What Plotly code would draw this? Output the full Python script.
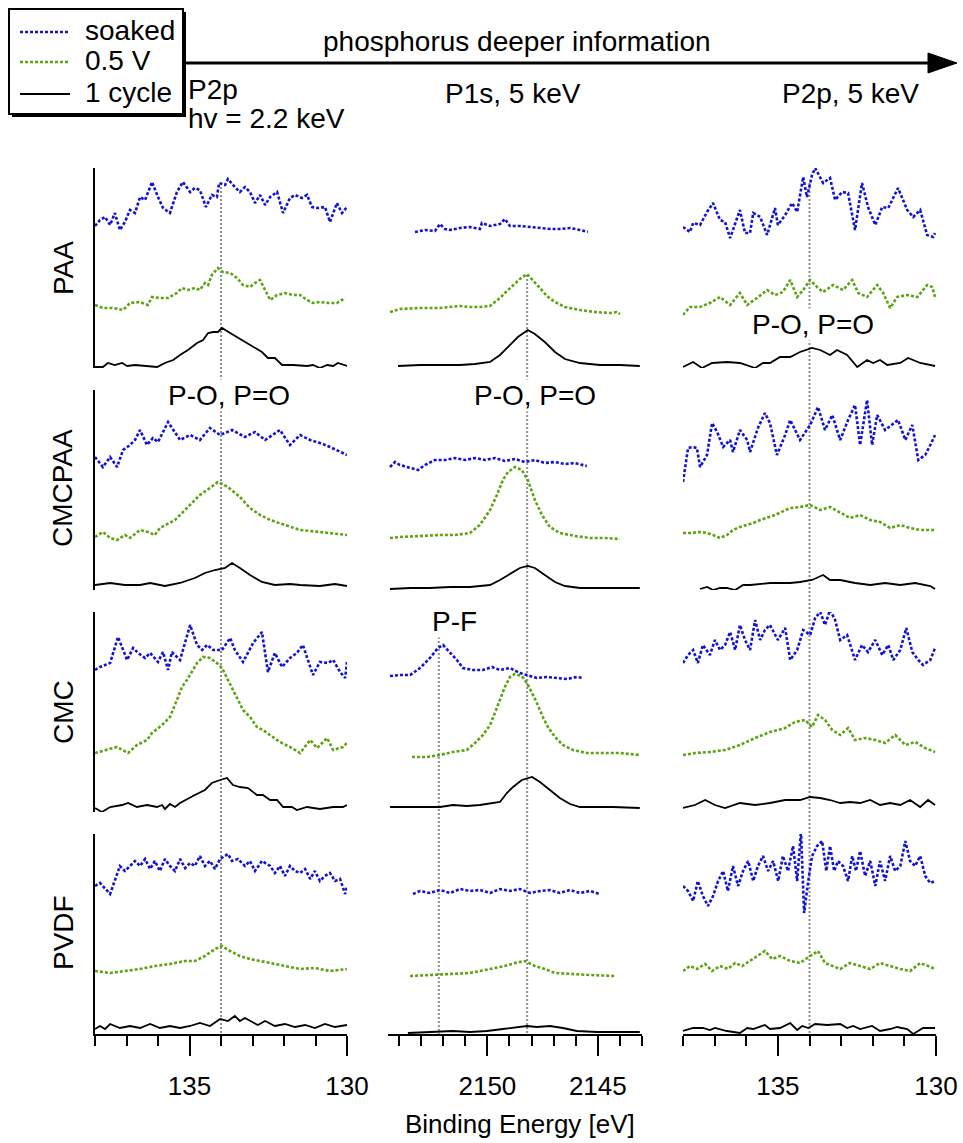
import plotly.graph_objects as go

# ---------------------------------------------------------------------------
# DATA  (binding energy in eV, intensity in arbitrary units above baseline)
# a = P2p, hv = 2.2 keV ; b = P1s, 5 keV ; c = P2p, 5 keV
# ---------------------------------------------------------------------------

# ---- PAA ----
paa_a_soaked_e = [138.00,137.84,137.68,137.52,137.37,137.21,137.05,136.89,136.73,136.57,136.41,136.19,136.00,135.84,135.62,135.40,135.21,134.98,134.83,134.67,134.48,134.29,134.13,134.06,133.87,133.78,133.56,133.40,133.24,133.08,132.92,132.76,132.60,132.44,132.22,132.03,131.81,131.65,131.43,131.27,131.11,130.92,130.70,130.54,130.32,130.16,130.00]
paa_a_soaked_i = [2,8,11,3,15,-2,6,18,15,31,28,46,31,20,15,36,46,36,40,38,21,33,31,45,43,49,41,36,41,36,25,33,23,31,36,15,30,33,30,33,21,20,21,6,25,15,21]
paa_a_v05_e = [138.00,137.75,137.43,137.11,136.89,136.57,136.32,136.19,135.94,135.68,135.40,135.24,135.05,134.83,134.67,134.51,134.41,134.29,134.10,133.94,133.71,133.49,133.30,133.08,132.92,132.76,132.60,132.44,132.22,131.97,131.71,131.49,131.27,131.08,130.86,130.60,130.32,130.06]
paa_a_v05_i = [3,0,0,-2,5,6,3,11,10,10,15,20,18,20,18,25,23,33,40,36,35,30,23,21,25,28,18,8,13,15,13,13,8,5,6,5,5,10]
paa_a_cycle1_e = [138.00,137.75,137.59,137.37,137.14,136.98,136.73,136.25,136.03,135.78,135.52,135.30,135.05,134.76,134.57,134.41,134.25,134.10,133.97,133.71,133.49,133.24,132.98,132.70,132.51,132.29,132.06,131.71,131.27,131.08,130.86,130.63,130.44,130.29,130.00]
paa_a_cycle1_i = [1,1,5,3,5,2,3,2,1,5,8,13,18,25,28,35,36,36,40,35,31,26,21,16,10,10,3,3,2,3,0,3,2,5,2]

paa_b_soaked_e = [2153.28,2152.83,2152.37,2152.15,2151.92,2151.69,2151.24,2150.79,2150.34,2150.25,2149.88,2149.43,2149.21,2148.98,2148.53,2148.07,2147.62,2147.17,2146.72,2146.26,2145.81,2145.45]
paa_b_soaked_i = [-4,-2,-3,4,-1,-2,0,1,-1,5,2,4,9,2,2,1,0,-1,-1,0,-2,-4]
paa_b_v05_e = [2154.41,2153.96,2153.05,2152.15,2151.24,2150.79,2150.34,2149.88,2149.66,2149.43,2149.21,2148.98,2148.75,2148.53,2148.21,2147.94,2147.62,2147.31,2146.94,2146.49,2145.81,2145.13,2144.45,2144.14,2144.00]
paa_b_v05_i = [-4,-1,0,0,2,1,1,2,6,10,15,20,25,29,34,28,20,12,6,1,-2,-4,-5,-4,-6]
paa_b_cycle1_e = [2154.05,2153.05,2152.15,2151.24,2150.56,2149.88,2149.43,2148.98,2148.62,2148.17,2147.85,2147.40,2146.94,2146.49,2145.81,2144.91,2144.00,2143.10]
paa_b_cycle1_i = [2,3,3,3,4,6,13,23,31,38,34,26,16,9,5,3,3,2]

paa_c_soaked_e = [138.00,137.78,137.68,137.46,137.24,137.05,136.83,136.67,136.51,136.35,136.20,136.04,135.88,135.78,135.56,135.34,135.09,135.00,134.77,134.55,134.39,134.20,134.08,133.92,133.82,133.57,133.35,133.19,132.97,132.78,132.56,132.34,132.15,131.92,131.70,131.51,131.20,130.91,130.72,130.50,130.28,130.09,130.03]
paa_c_soaked_i = [1,-4,5,3,16,25,8,6,-10,5,18,-5,-5,15,11,-7,20,3,13,25,16,51,31,53,60,45,50,28,36,35,-2,45,21,3,21,20,40,18,11,18,-7,-9,-5]
paa_c_v05_e = [138.00,137.78,137.46,137.15,136.83,136.51,136.20,135.97,135.66,135.34,135.09,134.84,134.61,134.39,134.20,133.98,133.76,133.57,133.25,132.94,132.65,132.46,132.18,131.86,131.67,131.45,131.23,130.91,130.59,130.28,130.12,130.03]
paa_c_v05_i = [-7,1,1,5,11,3,15,3,10,18,13,16,28,11,18,28,21,16,23,18,28,15,11,23,15,0,11,13,11,23,21,11]
paa_c_cycle1_e = [138.00,137.68,137.40,137.08,136.61,136.20,135.72,135.47,135.25,134.93,134.61,134.30,133.92,133.66,133.35,133.13,132.81,132.49,132.18,131.99,131.77,131.54,131.13,130.88,130.50,130.03]
paa_c_cycle1_i = [1,6,0,5,6,5,0,5,5,11,11,16,20,18,13,18,13,1,8,5,8,3,5,10,5,2]

# ---- CMCPAA ----
cmcpaa_a_soaked_e = [138.00,137.75,137.52,137.30,137.11,136.89,136.73,136.57,136.35,136.16,136.00,135.68,135.30,134.98,134.67,134.35,134.03,133.65,133.24,132.92,132.60,132.13,131.81,131.49,131.17,130.86,130.54,130.22,130.00]
cmcpaa_a_soaked_i = [8,-2,8,-2,15,20,25,35,20,27,23,43,25,30,25,37,30,35,28,33,25,35,20,30,25,22,18,13,10]
cmcpaa_a_v05_e = [138.00,137.75,137.52,137.30,137.05,136.89,136.57,136.32,136.10,135.94,135.46,134.98,134.67,134.35,134.10,133.78,133.40,133.08,132.76,132.44,131.97,131.49,130.86,130.00]
cmcpaa_a_v05_i = [3,8,2,0,5,2,10,8,5,12,20,35,45,52,58,53,43,32,25,20,15,10,8,5]
cmcpaa_a_cycle1_e = [138.00,137.52,137.05,136.57,136.25,135.78,135.30,134.83,134.51,134.19,133.87,133.65,133.40,133.08,132.70,132.29,131.81,131.49,130.86,130.38,130.00]
cmcpaa_a_cycle1_i = [5,7,5,5,7,4,7,12,17,20,22,27,22,15,8,5,6,5,4,6,4]

cmcpaa_b_soaked_e = [2154.41,2154.18,2153.96,2153.50,2153.14,2152.83,2152.37,2151.92,2151.47,2151.02,2150.56,2150.11,2149.66,2149.21,2148.75,2148.30,2147.85,2147.40,2146.94,2146.49,2146.04,2145.50]
cmcpaa_b_soaked_i = [-2,3,0,-3,-5,0,5,5,7,5,7,5,7,4,6,3,5,2,3,1,2,-1]
cmcpaa_b_v05_e = [2154.41,2153.96,2153.05,2152.15,2151.47,2150.79,2150.34,2149.88,2149.57,2149.30,2149.07,2148.75,2148.44,2148.17,2147.85,2147.53,2147.17,2146.72,2146.04,2145.36,2144.68,2144.00]
cmcpaa_b_v05_i = [2,3,4,5,5,7,15,30,45,60,68,73,70,60,40,25,13,7,4,2,2,1]
cmcpaa_b_cycle1_e = [2154.41,2153.50,2152.60,2151.69,2150.79,2149.88,2149.43,2148.98,2148.53,2148.17,2147.85,2147.40,2146.94,2146.49,2145.81,2144.91,2144.00,2143.10]
cmcpaa_b_cycle1_i = [1,2,2,3,3,5,10,16,22,24,22,15,8,4,2,2,2,2]

cmcpaa_c_soaked_e = [138.00,137.91,137.84,137.68,137.56,137.46,137.24,137.08,136.92,136.73,136.51,136.42,136.20,135.97,135.88,135.63,135.41,135.25,135.03,134.77,134.61,134.30,133.98,133.73,133.51,133.28,133.03,132.78,132.56,132.40,132.18,132.02,131.86,131.61,131.39,131.20,130.97,130.75,130.56,130.34,130.18,130.03]
cmcpaa_c_soaked_i = [-17,0,17,18,17,-2,10,42,33,18,25,13,35,25,13,37,52,42,10,30,45,25,40,58,35,50,25,45,60,20,65,20,50,35,40,45,25,40,5,10,20,30]
cmcpaa_c_v05_e = [138.00,137.78,137.46,137.24,137.05,136.83,136.61,136.42,136.20,135.97,135.78,135.56,135.34,135.09,134.61,134.30,133.98,133.66,133.35,133.03,132.72,132.40,132.08,131.77,131.45,131.13,130.82,130.50,130.03]
cmcpaa_c_v05_i = [7,7,8,7,5,2,5,10,13,15,17,20,22,25,32,33,35,30,33,27,22,25,20,18,12,15,12,10,10]
cmcpaa_c_cycle1_e = [137.46,137.24,137.05,136.83,136.61,136.35,136.10,135.88,135.25,134.61,134.30,133.92,133.57,133.35,133.03,132.56,132.08,131.61,131.13,130.66,130.18,130.03]
cmcpaa_c_cycle1_i = [1,3,0,2,2,0,5,5,7,7,8,10,15,10,10,7,5,7,5,7,4,1]

# ---- CMC ----
cmc_a_soaked_e = [138.00,137.84,137.52,137.27,136.98,136.79,136.63,136.41,136.25,136.00,135.84,135.68,135.56,135.30,134.98,134.76,134.60,134.44,134.25,133.97,133.71,133.56,133.30,132.98,132.70,132.51,132.29,132.06,131.81,131.59,131.40,131.27,131.08,130.86,130.60,130.44,130.22,130.06,130.00]
cmc_a_soaked_i = [-3,0,4,30,7,19,14,9,14,5,15,-3,15,7,42,22,17,22,17,17,29,17,5,24,35,-5,14,0,9,14,22,10,-8,5,4,7,-5,-11,5]
cmc_a_v05_e = [138.00,137.62,137.30,136.95,136.67,136.35,136.19,135.87,135.62,135.40,135.24,135.08,134.89,134.76,134.57,134.35,134.13,133.97,133.81,133.62,133.46,133.30,133.08,132.86,132.67,132.44,132.13,131.81,131.49,131.17,130.95,130.63,130.44,130.13,130.00]
cmc_a_v05_i = [4,7,10,4,12,17,24,32,40,57,70,77,87,94,100,99,94,89,79,67,57,47,40,30,27,22,15,10,4,17,9,19,7,10,14]
cmc_a_cycle1_e = [138.00,137.78,137.52,137.14,136.95,136.67,136.35,136.03,135.87,135.78,135.62,135.46,135.30,135.08,134.83,134.51,134.29,134.03,133.81,133.62,133.40,133.14,132.86,132.67,132.44,132.22,132.03,131.75,131.59,131.27,130.86,130.44,130.13,130.00]
cmc_a_cycle1_i = [4,0,5,7,9,5,7,5,7,3,8,5,9,13,17,22,29,32,34,27,25,24,17,17,12,12,5,5,2,5,3,5,5,7]

cmc_b_soaked_e = [2154.41,2153.96,2153.50,2153.05,2152.60,2152.24,2152.01,2151.69,2151.38,2151.11,2150.65,2150.20,2149.79,2149.43,2148.98,2148.53,2148.17,2147.76,2147.31,2146.85,2146.40,2145.95,2145.68]
cmc_b_soaked_i = [-9,-8,-8,-1,9,19,22,14,7,-1,-3,-3,0,-3,-1,-6,-8,-11,-10,-11,-12,-10,-11]
cmc_b_v05_e = [2153.41,2152.74,2152.15,2151.56,2150.93,2150.56,2150.20,2149.88,2149.66,2149.43,2149.21,2148.98,2148.75,2148.44,2148.21,2147.98,2147.76,2147.49,2147.26,2146.94,2146.58,2146.13,2145.50,2144.77,2144.00,2143.10]
cmc_b_v05_i = [0,0,2,5,7,14,22,32,44,57,70,80,83,81,74,64,54,40,30,20,12,7,4,4,4,2]
cmc_b_cycle1_e = [2154.41,2153.37,2152.15,2151.56,2150.93,2150.34,2149.75,2149.43,2149.12,2148.84,2148.44,2147.98,2147.62,2147.17,2146.72,2146.26,2145.81,2145.04,2144.32,2143.10]
cmc_b_cycle1_i = [5,5,5,7,6,7,9,10,19,25,32,35,30,22,14,8,5,5,5,4]

cmc_c_soaked_e = [138.00,137.84,137.68,137.53,137.37,137.15,136.99,136.83,136.67,136.51,136.35,136.20,136.04,135.88,135.72,135.56,135.41,135.25,135.00,134.77,134.61,134.39,134.20,133.98,133.82,133.66,133.51,133.35,133.19,133.03,132.81,132.56,132.34,132.15,131.92,131.70,131.51,131.35,131.13,130.94,130.75,130.56,130.41,130.18,130.03]
cmc_c_soaked_i = [4,12,17,4,22,12,27,17,22,35,17,42,27,17,47,27,37,42,27,39,7,17,37,32,49,55,42,57,47,27,32,7,22,15,27,12,22,7,17,39,15,7,2,7,19]
cmc_c_v05_e = [138.00,137.62,137.15,136.67,136.20,135.72,135.25,134.77,134.46,134.14,133.92,133.73,133.51,133.28,133.03,132.78,132.56,132.24,131.92,131.61,131.29,130.97,130.66,130.34,130.03]
cmc_c_v05_i = [2,4,5,7,12,19,25,29,35,37,30,42,37,27,22,29,17,19,17,14,22,12,15,9,5]
cmc_c_cycle1_e = [138.00,137.62,137.30,136.99,136.67,136.20,135.72,135.25,134.77,134.30,133.98,133.66,133.35,133.03,132.72,132.40,132.08,131.77,131.45,131.13,130.82,130.50,130.25,130.03]
cmc_c_cycle1_i = [4,7,12,7,4,9,7,9,12,12,15,14,12,9,10,9,12,7,9,7,12,5,12,7]

# ---- PVDF ----
pvdf_a_soaked_e = [138.00,137.84,137.52,137.37,137.21,137.05,136.89,136.73,136.57,136.41,136.25,136.10,135.94,135.78,135.62,135.46,135.30,135.14,134.98,134.83,134.67,134.51,134.35,134.19,134.03,133.78,133.65,133.46,133.24,133.08,132.92,132.70,132.44,132.29,132.13,131.97,131.81,131.65,131.49,131.33,131.17,131.02,130.86,130.70,130.54,130.38,130.22,130.06,130.00]
pvdf_a_soaked_i = [8,11,0,13,28,23,28,33,28,35,25,33,23,35,28,23,35,26,31,28,38,28,33,25,35,40,33,35,28,33,23,33,28,21,28,18,28,23,21,25,15,23,13,18,21,13,15,0,8]
pvdf_a_v05_e = [138.00,137.52,137.05,136.57,136.10,135.62,135.14,134.83,134.51,134.19,133.97,133.71,133.40,133.08,132.76,132.44,131.97,131.49,131.02,130.54,130.00]
pvdf_a_v05_i = [8,6,8,10,13,15,18,18,23,30,33,28,23,20,18,16,13,10,11,8,10]
pvdf_a_cycle1_e = [138.00,137.84,137.68,137.52,137.21,136.89,136.57,136.25,135.94,135.62,135.30,134.98,134.67,134.35,134.03,133.78,133.56,133.40,133.24,133.08,132.83,132.60,132.29,131.97,131.65,131.33,131.02,130.70,130.38,130.00]
pvdf_a_cycle1_i = [5,8,5,10,6,8,6,10,6,8,6,8,11,8,15,13,18,13,16,13,9,13,8,10,7,9,6,10,7,9]

pvdf_b_soaked_e = [2153.37,2153.05,2152.60,2152.15,2151.69,2151.24,2150.79,2150.34,2149.88,2149.43,2148.98,2148.53,2148.07,2147.62,2147.17,2146.72,2146.26,2145.81,2145.36,2144.91]
pvdf_b_soaked_i = [0,3,1,4,1,5,3,4,1,5,3,5,1,3,4,1,4,1,3,0]
pvdf_b_v05_e = [2153.50,2152.60,2151.69,2150.79,2149.88,2149.21,2148.75,2148.30,2147.85,2147.40,2146.94,2146.26,2145.36,2144.23]
pvdf_b_v05_i = [3,4,5,6,10,13,16,18,13,10,6,5,4,3]
pvdf_b_cycle1_e = [2153.60,2152.28,2151.56,2150.79,2150.02,2149.30,2148.66,2148.21,2147.76,2147.17,2146.58,2145.95,2145.04,2144.14,2143.10]
pvdf_b_cycle1_i = [1,2,3,2,3,5,7,8,7,8,6,3,2,2,2]

pvdf_c_soaked_e = [138.00,137.84,137.68,137.53,137.37,137.21,137.05,136.89,136.73,136.58,136.42,136.26,136.10,135.94,135.78,135.63,135.47,135.31,135.15,134.99,134.84,134.68,134.52,134.39,134.27,134.17,134.04,133.92,133.76,133.60,133.47,133.35,133.22,133.10,132.94,132.78,132.65,132.53,132.40,132.24,132.08,131.92,131.77,131.61,131.45,131.29,131.13,130.97,130.82,130.66,130.50,130.34,130.18,130.03]
pvdf_c_soaked_i = [8,3,-7,13,-2,-12,-2,13,23,3,28,8,23,33,13,28,38,23,33,13,38,23,48,13,63,-19,13,38,48,53,23,48,23,33,28,13,38,23,43,18,33,8,33,13,38,23,28,53,33,28,38,18,11,13]
pvdf_c_v05_e = [138.00,137.78,137.56,137.30,137.08,136.83,136.58,136.35,136.13,135.88,135.66,135.41,135.18,134.93,134.61,134.30,133.98,133.73,133.51,133.28,133.03,132.72,132.40,132.08,131.77,131.45,131.13,130.82,130.50,130.25,130.03]
pvdf_c_v05_i = [8,13,10,15,8,13,10,16,13,18,23,28,20,23,18,16,23,28,16,13,10,16,13,10,16,13,10,8,16,13,10]
pvdf_c_cycle1_e = [138.00,137.68,137.37,137.15,136.99,136.61,136.20,135.97,135.78,135.41,135.25,134.93,134.61,134.39,134.23,134.04,133.82,133.44,133.03,132.81,132.62,132.40,132.02,131.77,131.45,131.23,130.91,130.72,130.41,130.03]
pvdf_c_cycle1_i = [3,6,6,4,6,3,1,6,5,9,5,6,11,4,8,6,10,9,10,6,8,5,8,3,5,7,5,0,6,6]

SAMPLES = ["PAA", "CMCPAA", "CMC", "PVDF"]
REGION_KEYS = ["a", "b", "c"]
REGION_TITLES = ["P2p<br>hv = 2.2 keV", "P1s, 5 keV", "P2p, 5 keV"]
SERIES_NAMES = ["soaked", "0.5 V", "1 cycle"]
SERIES_KEYS = ["soaked", "v05", "cycle1"]
MAJOR_TICKS = [[135, 130], [2150, 2145], [135, 130]]
MINOR_TICKS = [list(range(130, 139)), list(range(2143, 2155)), list(range(130, 139))]
PEAK_ENERGIES = [(0, 134.0), (1, 2148.2), (1, 2152.2), (2, 134.0)]
PEAK_LABELS = ["P-O, P=O", "P-O, P=O", "P-O, P=O", "P-F"]

# ---------------------------------------------------------------------------
# STYLE / LAYOUT
# ---------------------------------------------------------------------------
W, H = 963, 1143
FONT = "Liberation Sans, Arial, Helvetica, sans-serif"
BLUE = "#1212d4"
GREEN = "#5ea312"
STYLES = [dict(color=BLUE, width=2.6, dash="3px,2px"),
          dict(color=GREEN, width=2.6, dash="3px,2px"),
          dict(color="black", width=1.8)]
OFFSETS = {"PAA": [140, 60, 0], "CMCPAA": [125, 50, 0], "CMC": [145, 55, 0], "PVDF": [140, 55, 0]}
COL_PX = [(95, 347), (388, 642), (683, 936)]
ROW_PX = [(168, 368), (390, 590), (612, 812), (834, 1034)]
X_RANGES = [[138, 130], [2154.5, 2143], [138, 130]]
Y_RANGE = [0, 200]


def px_x(p):
    return p / W


def px_y(p):
    return 1 - p / H


fig = go.Figure()
layout = {}
for r, sample in enumerate(SAMPLES):
    for c in range(3):
        k = r * 3 + c + 1
        sx = "" if k == 1 else str(k)
        for j, key in enumerate(SERIES_KEYS):
            e = globals()[f"{sample.lower()}_{REGION_KEYS[c]}_{key}_e"]
            inten = globals()[f"{sample.lower()}_{REGION_KEYS[c]}_{key}_i"]
            assert len(e) == len(inten), (sample, c, key)
            fig.add_trace(go.Scatter(
                x=e, y=[v + OFFSETS[sample][j] for v in inten],
                mode="lines", line=STYLES[j], name=SERIES_NAMES[j],
                showlegend=False, xaxis="x" + sx, yaxis="y" + sx))
        bottom = (r == len(SAMPLES) - 1)
        xa = dict(domain=[px_x(COL_PX[c][0]), px_x(COL_PX[c][1])], anchor="y" + sx,
                  range=X_RANGES[c], showgrid=False, zeroline=False, fixedrange=True,
                  automargin=False)
        if bottom:
            xa.update(showline=True, linecolor="black", linewidth=2,
                      ticks="outside", ticklen=20, tickwidth=2, tickcolor="black",
                      tickmode="array", tickvals=MAJOR_TICKS[c],
                      tickfont=dict(size=26, color="black", family=FONT),
                      ticklabelstandoff=8,
                      minor=dict(tickmode="array", tickvals=MINOR_TICKS[c], ticks="outside",
                                 ticklen=10, tickwidth=2, tickcolor="black", showgrid=False))
        else:
            xa.update(visible=False)
        ya = dict(domain=[px_y(ROW_PX[r][1]), px_y(ROW_PX[r][0])], anchor="x" + sx,
                  range=Y_RANGE, showgrid=False, zeroline=False, fixedrange=True,
                  showticklabels=False, ticks="", automargin=False)
        if c == 0:
            ya.update(showline=True, linecolor="black", linewidth=2)
        else:
            ya.update(visible=False)
        layout["xaxis" + sx] = xa
        layout["yaxis" + sx] = ya

shapes = []
# peak position guide lines (dotted grey)
LINE_TOPS = [183, 275, 637, 183]
for (c, en), top in zip(PEAK_ENERGIES, LINE_TOPS):
    shapes.append(dict(type="line", xref="x" + ("" if c == 0 else str(c + 1)), yref="paper",
                       x0=en, x1=en, y0=px_y(top), y1=px_y(ROW_PX[-1][1]),
                       line=dict(color="#8e8e8e", width=2, dash="2px,2px"), layer="below"))

# arrow: phosphorus deeper information
shapes.append(dict(type="line", xref="paper", yref="paper", x0=px_x(186), x1=px_x(932),
                   y0=px_y(63), y1=px_y(63), line=dict(color="black", width=3)))
shapes.append(dict(type="path", xref="paper", yref="paper",
                   path=f"M {px_x(928)},{px_y(53)} L {px_x(957)},{px_y(63)} L {px_x(928)},{px_y(73)} Z",
                   fillcolor="black", line=dict(color="black", width=1)))

# legend box (manual, with drop shadow)
shapes.append(dict(type="rect", xref="paper", yref="paper", x0=px_x(12), x1=px_x(186),
                   y0=px_y(117), y1=px_y(12), fillcolor="black", line=dict(width=0)))
shapes.append(dict(type="rect", xref="paper", yref="paper", x0=px_x(9), x1=px_x(183),
                   y0=px_y(114), y1=px_y(9), fillcolor="white", line=dict(color="black", width=2)))
LEG_Y = [32, 62, 94]
LEG_TXT_Y = [30, 61, 92]
for j in range(3):
    shapes.append(dict(type="line", xref="paper", yref="paper", x0=px_x(20), x1=px_x(70),
                       y0=px_y(LEG_Y[j]), y1=px_y(LEG_Y[j]), line=STYLES[j]))

annotations = []


def ann(text, x, y, size=28, xanchor="center", angle=0, bg=None):
    d = dict(text=text, x=px_x(x), y=px_y(y), xref="paper", yref="paper", showarrow=False,
             xanchor=xanchor, yanchor="middle", textangle=angle,
             font=dict(size=size, color="black", family=FONT), borderpad=0)
    if bg:
        d["bgcolor"] = bg
    annotations.append(d)


for j in range(3):
    ann(SERIES_NAMES[j], 84, LEG_TXT_Y[j], xanchor="left")

ann("phosphorus deeper information", 517, 42)
ann("P2p", 187, 89, xanchor="left")
ann("hv = 2.2 keV", 187, 119, xanchor="left")
ann(REGION_TITLES[1], 513, 93)
ann(REGION_TITLES[2], 850, 93)

ROW_LABEL_Y = [268, 488, 712, 932]
for r, sample in enumerate(SAMPLES):
    ann(sample, 63, ROW_LABEL_Y[r], angle=-90)

LABEL_POS = [(229, 395), (535, 395), (813, 325), (454, 622)]
for txt, (lx, ly) in zip(PEAK_LABELS, LABEL_POS):
    ann(txt, lx, ly, bg="white")

ann("Binding Energy [eV]", 520, 1124, size=26)

fig.update_layout(**layout)
fig.update_layout(template="none", width=W, height=H, autosize=False,
                  margin=dict(l=0, r=0, t=0, b=0, pad=0),
                  paper_bgcolor="white", plot_bgcolor="white",
                  font=dict(family=FONT, color="black"),
                  shapes=shapes, annotations=annotations, showlegend=False)
fig.write_html("out.html", config={"responsive": False})
